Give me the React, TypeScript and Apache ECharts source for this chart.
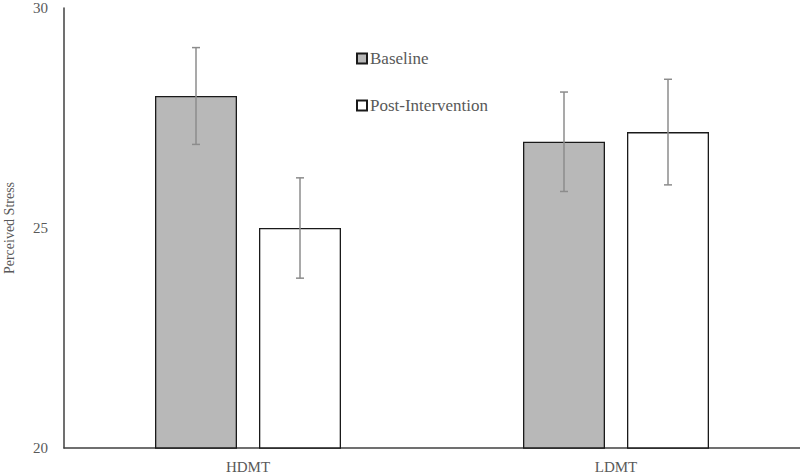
import React, { useEffect, useRef } from "react";
import * as echarts from "echarts";

const categories = ["HDMT", "LDMT"];
const baseline = [28.0, 26.96];
const baselineErr = [1.1, 1.13];
const post = [25.0, 27.18];
const postErr = [1.14, 1.2];
const yTicks = { min: 20, max: 30, interval: 5 };

const BAR_WIDTH = 82;
const BAR_GAP = 22;

export default function App() {
  const ref = useRef<HTMLDivElement>(null);
  useEffect(() => {
    if (!ref.current) return;
    const chart = echarts.init(ref.current, null, { renderer: "svg" });
    const font = "'Liberation Serif', 'Times New Roman', serif";
    const errData = (vals: number[], errs: number[]) =>
      vals.map((v, i) => [i, v - errs[i], v + errs[i]]);
    const makeErr = (name: string, vals: number[], errs: number[], sign: number) => ({
      type: "custom",
      name: name + "-err",
      z: 10,
      silent: true,
      renderItem: (params: any, api: any) => {
        const idx = api.value(0);
        const lo = api.coord([idx, api.value(1)]);
        const hi = api.coord([idx, api.value(2)]);
        const x = lo[0] + sign * (BAR_WIDTH / 2 + BAR_GAP / 2);
        const cap = 4;
        const style = { stroke: "#8c8c8c", lineWidth: 1.5, fill: "none" };
        return {
          type: "group",
          children: [
            { type: "line", shape: { x1: x, y1: lo[1], x2: x, y2: hi[1] }, style },
            { type: "line", shape: { x1: x - cap, y1: lo[1], x2: x + cap, y2: lo[1] }, style },
            { type: "line", shape: { x1: x - cap, y1: hi[1], x2: x + cap, y2: hi[1] }, style },
          ],
        };
      },
      data: errData(vals, errs),
    });
    chart.setOption({
      animation: false,
      textStyle: { fontFamily: font },
      grid: { left: 64, right: 0, top: 8, bottom: 28, containLabel: false, outerBoundsMode: "none" },
      legend: {
        orient: "vertical",
        left: 356,
        top: 50,
        padding: 0,
        itemWidth: 10,
        itemHeight: 10,
        itemGap: 30,
        icon: "rect",
        data: ["Baseline", "Post-Intervention"],
        textStyle: { fontFamily: font, fontSize: 17, color: "#595959", lineHeight: 17, padding: [0, 0, 0, -2] },
      },
      xAxis: {
        type: "category",
        data: categories,
        axisLine: { show: true, lineStyle: { color: "#404040", width: 1.5 } },
        axisTick: { show: false },
        axisLabel: { fontFamily: font, fontSize: 15, color: "#595959", margin: 11 },
      },
      yAxis: {
        type: "value",
        min: yTicks.min,
        max: yTicks.max,
        interval: yTicks.interval,
        name: "Perceived Stress",
        nameLocation: "middle",
        nameGap: 48,
        nameTextStyle: { fontFamily: font, fontSize: 14, color: "#595959", lineHeight: 14 },
        axisLine: { show: true, lineStyle: { color: "#404040", width: 1.5 } },
        axisTick: { show: false },
        splitLine: { show: false },
        axisLabel: { fontFamily: font, fontSize: 15, color: "#595959", margin: 16 },
      },
      series: [
        {
          type: "bar",
          name: "Baseline",
          data: baseline,
          barWidth: BAR_WIDTH,
          barGap: `${(BAR_GAP / BAR_WIDTH) * 100}%`,
          itemStyle: { color: "#b8b8b8", borderColor: "#1a1a1a", borderWidth: 1.3 },
        },
        {
          type: "bar",
          name: "Post-Intervention",
          data: post,
          barWidth: BAR_WIDTH,
          barGap: `${(BAR_GAP / BAR_WIDTH) * 100}%`,
          itemStyle: { color: "#ffffff", borderColor: "#1a1a1a", borderWidth: 1.3 },
        },
        makeErr("Baseline", baseline, baselineErr, -1),
        makeErr("Post-Intervention", post, postErr, 1),
      ],
    });
    return () => chart.dispose();
  }, []);
  return <div ref={ref} style={{ width: 800, height: 476, position: "absolute", left: 0, top: 0 }} />;
}
